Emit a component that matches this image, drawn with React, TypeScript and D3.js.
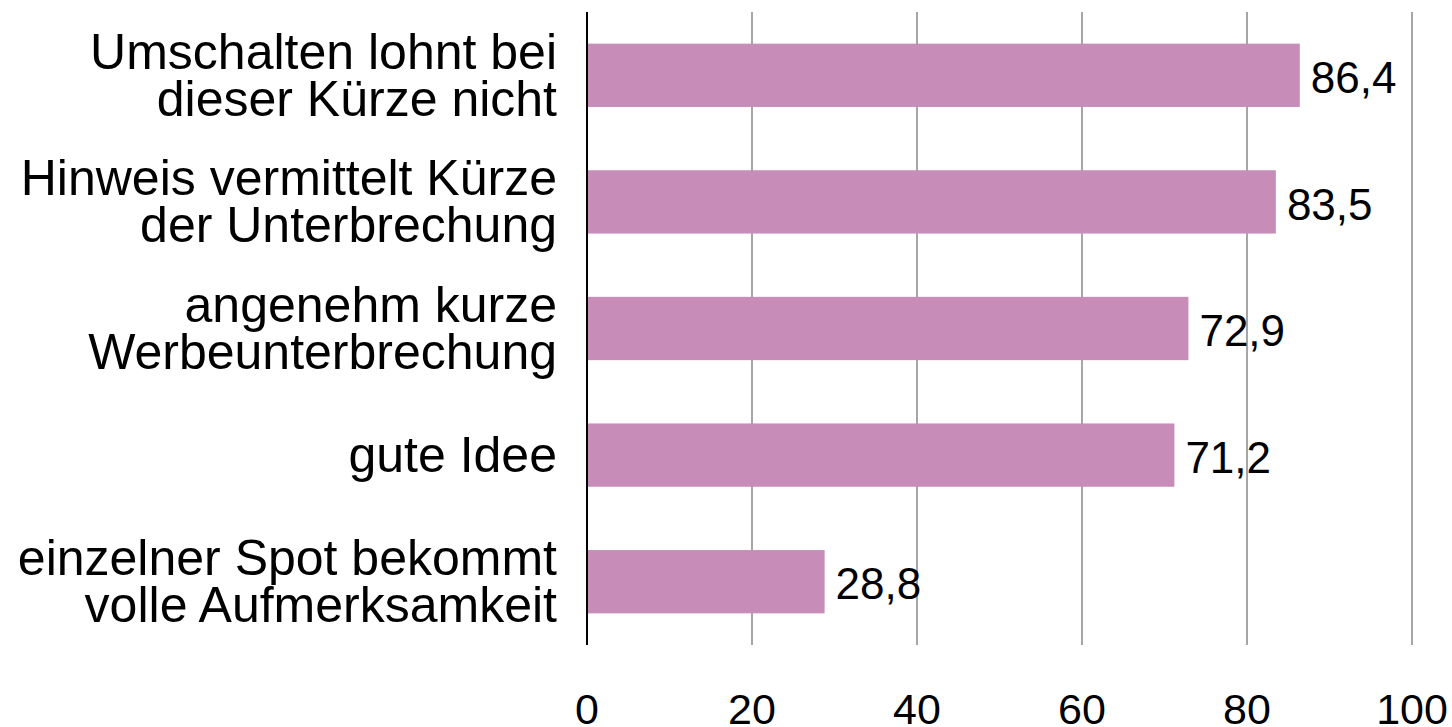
import React from "react";
import * as d3 from "d3";

const categories = [
  ["Umschalten lohnt bei", "dieser Kürze nicht"],
  ["Hinweis vermittelt Kürze", "der Unterbrechung"],
  ["angenehm kurze", "Werbeunterbrechung"],
  ["gute Idee"],
  ["einzelner Spot bekommt", "volle Aufmerksamkeit"],
];
const values = [86.4, 83.5, 72.9, 71.2, 28.8];
const ticks = [0, 20, 40, 60, 80, 100];

const W = 1452;
const H = 727;
const FONT = "'Liberation Sans', Arial, sans-serif";

export default function App() {
  const x = d3.scaleLinear().domain([0, 100]).range([587, 1412]);
  const y = d3
    .scaleBand<number>()
    .domain(d3.range(values.length))
    .range([12, 645])
    .paddingInner(0.5)
    .paddingOuter(0.25);
  const fmt = (v: number) => v.toFixed(1).replace(".", ",");
  return (
    <svg
      width={W}
      height={H}
      style={{ position: "absolute", left: 0, top: 0, background: "#fff" }}
      fontFamily={FONT}
    >
      {ticks.map((t) =>
        t === 0 ? null : (
          <line key={t} x1={x(t)} x2={x(t)} y1={12} y2={645} stroke="#A6A6A6" strokeWidth={2} />
        )
      )}
      {values.map((v, i) => (
        <rect key={i} x={x(0)} y={y(i)} width={x(v) - x(0)} height={y.bandwidth()} fill="#C78CB8" />
      ))}
      <line x1={x(0)} x2={x(0)} y1={12} y2={645} stroke="#000" strokeWidth={2} />
      {values.map((v, i) => (
        <text
          key={i}
          x={x(v) + 11}
          y={(y(i) as number) + y.bandwidth() / 2}
          dy="0.4em"
          fontSize={44}
          fill="#000"
        >
          {fmt(v)}
        </text>
      ))}
      {categories.map((lines, i) => {
        const cy = (y(i) as number) + y.bandwidth() / 2;
        const lh = 47;
        const start = cy - ((lines.length - 1) * lh) / 2;
        return (
          <text key={i} x={557} textAnchor="end" fontSize={50} fill="#000">
            {lines.map((l, j) => (
              <tspan key={j} x={557} y={start + j * lh} dy="0.34em">
                {l}
              </tspan>
            ))}
          </text>
        );
      })}
      {ticks.map((t) => (
        <text key={t} x={x(t)} y={724} textAnchor="middle" fontSize={43} fill="#000">
          {t}
        </text>
      ))}
    </svg>
  );
}
